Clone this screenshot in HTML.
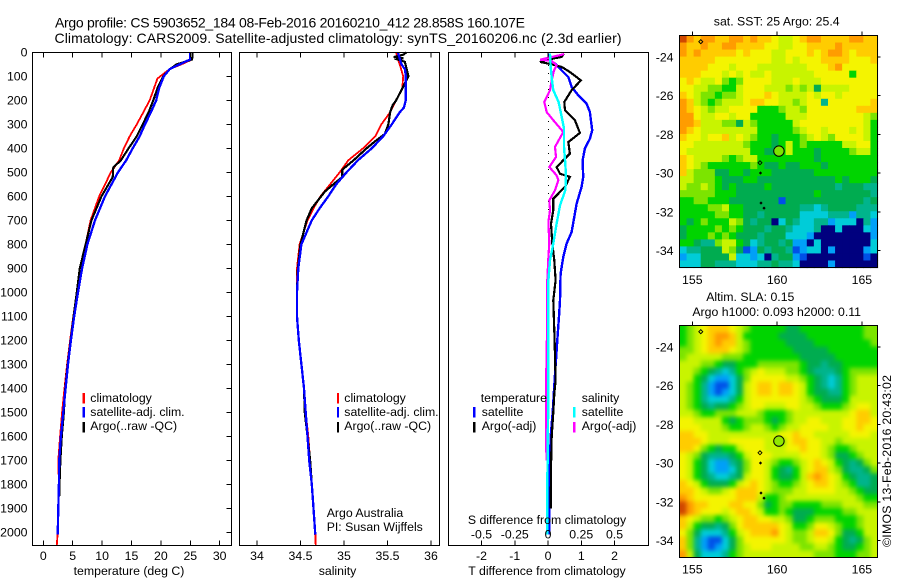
<!DOCTYPE html>
<html>
<head>
<meta charset="utf-8">
<title>Argo profile chart</title>
<style>
html,body{margin:0;padding:0;background:#fff;}
svg{display:block;font-family:"Liberation Sans",sans-serif;font-size:12.3px;fill:#000;}
text{fill:#000;}
</style>
</head>
<body>
<svg id="chart" xmlns="http://www.w3.org/2000/svg" width="900" height="580" viewBox="0 0 900 580">
<defs>
<filter id="sla-smooth" x="0" y="0" width="100%" height="100%" color-interpolation-filters="sRGB">
<feGaussianBlur stdDeviation="2"/>
<feComponentTransfer><feFuncA type="linear" slope="100"/></feComponentTransfer>
</filter>
<clipPath id="sla-clip"><rect x="679.5" y="325.5" width="198" height="232"/></clipPath>
</defs>
<rect x="0" y="0" width="900" height="580" fill="#fff"/>
<g id="marks"></g>
<g id="labels">
<text x="55" y="27.5" font-size="14" textLength="470">Argo profile: CS 5903652_184 08-Feb-2016 20160210_412 28.858S 160.107E</text>
<text x="54.5" y="43" font-size="14" textLength="567">Climatology: CARS2009. Satellite-adjusted climatology: synTS_20160206.nc (2.3d earlier)</text>
<text x="129" y="575" text-anchor="middle">temperature (deg C)</text>
<text x="337.5" y="575" text-anchor="middle">salinity</text>
<text x="547" y="575" text-anchor="middle">T difference from climatology</text>
<text x="547" y="524" text-anchor="middle">S difference from climatology</text>
<text x="90.3" y="402">climatology</text>
<text x="90.3" y="416">satellite-adj. clim.</text>
<text x="90.3" y="430">Argo(..raw -QC)</text>
<text x="344.3" y="402">climatology</text>
<text x="344.3" y="416">satellite-adj. clim.</text>
<text x="344.3" y="430">Argo(..raw -QC)</text>
<text x="326.7" y="517">Argo Australia</text>
<text x="326.7" y="531">PI: Susan Wijffels</text>
<text x="480.7" y="402">temperature</text>
<text x="481.7" y="416">satellite</text>
<text x="481.7" y="430">Argo(-adj)</text>
<text x="581.7" y="402">salinity</text>
<text x="581.7" y="416">satellite</text>
<text x="581.7" y="430">Argo(-adj)</text>
<text x="776.7" y="25.5" text-anchor="middle">sat. SST: 25 Argo: 25.4</text>
<text x="750.3" y="301" text-anchor="middle">Altim. SLA: 0.15</text>
<text x="776.7" y="316" text-anchor="middle">Argo h1000: 0.093 h2000: 0.11</text>
<text transform="translate(891,547) rotate(-90)" textLength="172">©IMOS 13-Feb-2016 20:43:02</text>
</g>
</svg>
<script>
// ---------- profile data ----------
const depthTicks = [0,100,200,300,400,500,600,700,800,900,1000,1100,1200,1300,1400,1500,1600,1700,1800,1900,2000];
const tempTicks = [0,5,10,15,20,25,30];
const salinityTicks = [34,34.5,35,35.5,36];
const tDiffTicks = [-2,-1,0,1,2];
const sDiffTicks = [-0.5,-0.25,0,0.25,0.5];
const lonTicks = [155,160,165];
const latTicks = [-24,-26,-28,-30,-32,-34];

const tempClimDepth = [0,30,50,70,100,110,200,250,300,350,400,450,500,600,700,800,900,1000,1100,1200,1300,1400,1500,1600,1700,1800,1900,2000,2054];
const tempClim = [25.35,25.3,23.5,21.5,19.9,19.4,18.1,17,15.9,14.7,13.7,12.9,11.5,9.5,8.05,7.2,6.2,5.7,5.1,4.55,4.05,3.6,3.2,2.85,2.55,2.65,2.6,2.45,2.3];
const tempSatDepth = [0,30,50,70,100,150,200,250,300,350,400,450,500,600,700,800,900,1000,1100,1200,1300,1400,1500,1600,1700,1800,1900,2010];
const tempSat = [24.95,24.95,23.2,21.5,20.5,19.7,19.2,18.3,17.3,16.4,15.2,14.1,12.7,10.5,8.8,7.5,6.6,5.9,5.25,4.7,4.2,3.8,3.4,3.0,2.7,2.65,2.55,2.45];
const tempArgoDepth = [0,30,50,70,100,150,200,250,300,350,400,450,480,520,600,700,800,900,1000,1100,1200,1300,1400,1500,1600,1700,1800,1850];
const tempArgo = [25.4,25.3,22.7,21.5,20.4,19.4,18.7,17.9,16.9,15.9,14.5,13.2,11.9,11.8,9.9,8.2,7.2,6.2,5.7,5.15,4.65,4.15,3.75,3.5,3.15,2.9,2.75,2.7];

const salClimDepth = [0,30,50,100,150,200,250,300,350,400,450,500,550,600,650,700,800,900,1000,1100,1200,1300,1400,1500,1600,1700,1800,1900,2000,2054];
const salClim = [35.6,35.62,35.64,35.68,35.67,35.6,35.53,35.43,35.36,35.22,35.05,34.95,34.84,34.73,34.65,34.58,34.49,34.46,34.46,34.46,34.48,34.51,34.54,34.56,34.59,34.61,34.63,34.65,34.67,34.675];
const salSatDepth = [0,50,70,100,150,200,230,250,300,350,400,450,500,550,600,650,700,800,900,1000,1100,1200,1300,1400,1500,1600,1700,1800,1900,2010];
const salSat = [35.62,35.66,35.7,35.71,35.71,35.71,35.69,35.64,35.55,35.45,35.32,35.16,35.03,34.91,34.82,34.72,34.63,34.51,34.475,34.46,34.46,34.48,34.51,34.54,34.56,34.58,34.6,34.63,34.65,34.67];
const salArgoDepth = [0,10,20,25,30,40,70,100,150,200,220,250,300,340,370,400,450,480,490,520,540,580,650,700,800,900,1000,1100,1200,1300,1400,1500,1600,1700,1800];
const salArgo = [35.72,35.68,35.57,35.68,35.62,35.7,35.72,35.74,35.67,35.6,35.56,35.53,35.51,35.47,35.36,35.26,35.11,35.01,34.98,34.98,34.91,34.78,34.63,34.57,34.5,34.47,34.46,34.46,34.48,34.51,34.54,34.55,34.58,34.61,34.63];

const tDiffSatDepth = [5,33,47,75,103,144,179,214,249,283,325,360,401,450,519,561,631,686,749,797,853,922,1033,1100,1200,1367,1500,1600,1700,1800,2010];
const tDiffSat = [0.04,0.06,0.21,0.41,0.61,0.71,0.91,1.16,1.26,1.29,1.33,1.26,1.11,1.04,1.06,1.01,0.86,0.79,0.71,0.56,0.46,0.38,0.36,0.33,0.28,0.2,0.14,0.08,0.06,0.05,0.04];
const tDiffArgoDepth = [6,19,26,40,50,61,82,117,158,207,242,283,336,374,422,478,506,519,561,610,658,714,797,867,950,1033,1200,1367,1422,1500,1600,1730,1900];
const tDiffArgo = [0.48,0.41,0.16,-0.24,0.11,0.41,0.66,0.99,0.71,0.49,0.51,0.81,0.96,0.61,0.66,0.26,0.36,0.66,0.51,0.16,0.16,0.09,0.13,0.19,0.23,0.16,0.2,0.23,0.19,0.16,0.11,0.09,0.08];
const sDiffArgoDepth = [8,31,36,54,75,117,158,207,249,283,332,394,436,478,513,533,575,617,658,707,797,853,950,1100,1400,1700];
const sDiffArgo = [0.12,-0.06,0.028,0.065,0.045,0.028,0.015,-0.028,-0.01,0.04,0.115,0.053,0.06,0.01,0.065,0.078,0.053,0.01,0.015,0.003,0.01,0.003,-0.005,-0.005,-0.015,-0.012];
const sDiffSatDepth = [6,61,117,158,207,261,317,394,464,519,575,638,714,797,867,950,1033,1400,1700,1800,2010];
const sDiffSat = [0.015,0.02,0.03,0.04,0.08,0.1,0.12,0.12,0.13,0.135,0.13,0.09,0.065,0.04,0.015,0.003,0.003,0.003,-0.003,-0.005,-0.005];

// ---------- map data (colour-scale steps) ----------
const scaleColors = ['#00007f','#0050e8','#00a0f8','#00ccd8','#00b48c','#00ac50','#00d400','#7ce400','#c8f400','#f4f400','#ffcc00','#ff9c00','#d04800'];
const trackLon = [155.5,158.99,159.02,159.05,159.23];
const trackLat = [-23.21,-29.46,-29.99,-31.54,-31.8];
const argoLon = 160.107;
const argoLat = -28.858;

const sstGrid = [
[12,11,10,11,11,10,10,11,11,10,11,10,10,9,8,8,9,10,11,11,10,10,10,10,11,11,10,10],
[11,10,10,11,10,10,11,11,10,10,10,10,9,9,8,8,9,9,10,10,10,10,11,10,10,10,10,10],
[11,10,11,10,10,10,10,10,9,10,9,9,9,8,8,9,9,9,10,9,10,11,11,10,9,10,10,10],
[10,10,10,10,10,9,9,9,9,9,9,9,9,8,8,9,8,9,9,9,10,10,10,10,9,9,9,10],
[10,10,10,10,9,9,9,8,9,9,9,8,8,8,8,8,8,8,9,9,9,10,11,9,9,9,9,9],
[10,10,10,9,9,9,8,9,8,9,8,8,9,8,8,8,8,8,8,9,9,9,9,9,6,9,9,9],
[9,10,9,8,8,9,7,6,7,9,9,9,9,8,8,8,9,8,8,8,9,9,9,9,9,9,9,9],
[9,9,8,8,7,7,6,6,8,9,9,9,8,8,8,7,8,7,8,5,8,8,8,8,9,9,9,9],
[10,9,8,7,7,6,7,7,8,9,9,9,10,9,8,8,8,8,9,8,9,9,8,9,9,9,9,9],
[11,10,8,7,6,7,8,8,8,9,10,10,9,9,8,8,7,8,9,9,4,9,9,9,9,9,9,10],
[11,10,9,8,7,8,8,9,9,9,9,6,6,6,7,8,8,7,9,9,9,9,9,9,9,10,10,10],
[11,11,9,8,8,9,9,8,9,9,6,6,6,6,6,8,8,8,9,9,9,9,9,9,9,9,8,7],
[11,11,10,8,8,8,7,7,5,8,7,6,6,6,6,6,8,9,9,9,9,9,9,9,9,9,8,6],
[11,10,9,8,8,8,8,8,8,8,8,6,6,6,6,6,7,8,9,9,8,9,9,9,8,9,8,6],
[10,9,9,8,9,9,10,8,9,8,7,6,6,5,6,6,6,7,8,9,8,7,9,9,9,9,8,6],
[9,9,8,8,8,8,8,8,8,7,6,6,6,5,6,8,6,7,6,6,6,6,6,8,8,9,9,6],
[9,8,8,8,8,8,8,8,8,8,6,6,5,5,6,8,6,6,6,5,6,6,6,6,7,8,8,6],
[10,9,8,8,8,8,7,6,7,8,8,6,6,6,6,6,6,6,6,5,6,6,6,6,6,6,6,6],
[10,9,8,7,6,6,6,6,6,6,7,6,5,5,6,5,5,6,6,6,5,6,6,6,6,6,6,6],
[10,8,7,7,7,5,5,6,6,5,6,6,6,5,5,5,5,5,5,6,6,6,6,6,6,6,6,6],
[8,8,7,7,7,6,5,5,5,6,6,5,5,5,5,5,5,5,5,5,5,5,6,5,6,6,6,5],
[8,7,7,8,7,6,5,6,5,5,5,5,6,5,5,5,5,5,5,5,5,5,4,5,5,5,4,4],
[7,7,7,7,7,6,6,6,5,5,5,5,5,5,5,5,5,5,5,6,5,5,5,5,5,5,5,4],
[6,6,7,7,6,6,6,5,5,5,5,5,5,5,1,5,5,5,5,5,5,5,5,5,5,5,4,5],
[6,6,6,6,7,7,8,6,6,5,5,5,5,5,5,5,5,4,4,3,4,5,5,5,5,4,4,4],
[6,6,6,6,6,7,7,6,6,5,5,4,5,5,5,5,5,3,3,3,3,4,4,4,2,4,4,3],
[6,5,6,7,6,6,6,8,7,5,4,5,5,0,3,5,4,3,3,4,4,2,3,3,3,0,4,2],
[5,6,6,6,6,7,6,7,6,5,5,5,4,5,5,4,3,3,3,4,0,0,3,0,0,0,3,2],
[5,6,6,6,7,6,7,6,5,5,5,4,5,5,5,3,3,3,2,0,0,0,0,0,0,0,0,2],
[6,6,5,4,4,7,8,8,6,5,3,4,5,5,4,5,2,2,0,3,0,0,0,0,0,0,0,3],
[3,4,4,5,5,5,8,7,5,1,2,5,4,5,5,4,1,2,3,3,0,2,0,0,0,0,2,3],
[2,3,3,5,5,5,5,8,3,3,2,3,0,4,5,5,2,1,0,0,0,0,0,0,0,0,1,0],
[3,3,3,5,5,4,4,4,3,3,3,4,4,5,4,4,3,0,0,0,0,2,0,0,0,0,0,0]
];

const slaGrid = [
[6,7,8,9,10,10,10,9,8,7,6,6,6,6,6,5,5,6,6,6,6,6,6,6,6,6,7,7],
[6,7,8,9,10,11,11,10,8,6,6,6,6,6,5,5,5,5,6,6,6,6,6,6,6,6,7,7],
[6,7,8,9,10,11,10,10,8,7,6,6,6,6,6,5,5,5,5,6,6,6,6,6,6,6,6,7],
[7,7,8,9,10,10,10,9,8,7,6,6,6,6,6,6,5,5,5,5,5,6,6,6,6,6,6,6],
[7,8,8,8,8,8,7,7,7,6,6,6,6,6,6,6,6,5,5,5,5,5,6,6,6,6,6,6],
[8,8,8,7,7,6,5,5,6,6,6,7,7,7,7,7,7,6,5,5,4,5,5,6,6,6,6,6],
[8,8,7,6,5,4,3,4,6,7,8,9,8,8,8,7,7,6,5,4,4,4,5,6,7,7,7,7],
[8,8,6,5,3,2,2,3,5,7,9,9,9,9,9,8,8,7,6,5,4,3,4,6,7,8,8,8],
[8,7,6,4,2,1,1,3,5,8,9,10,10,9,10,10,9,8,6,5,4,3,4,6,7,8,8,8],
[8,7,6,4,2,1,2,3,5,8,9,10,10,9,10,10,9,8,6,5,5,4,4,6,7,8,8,8],
[8,7,6,4,3,3,3,4,6,8,9,9,9,9,9,9,9,8,7,6,5,5,5,6,8,8,8,8],
[8,7,6,5,4,5,5,6,7,8,9,9,8,8,8,9,9,8,8,7,6,6,6,7,8,9,9,8],
[8,8,7,6,6,7,7,7,8,8,8,7,6,6,6,7,8,8,8,8,8,8,8,8,9,10,10,8],
[9,9,8,8,8,8,6,5,6,7,7,7,6,5,6,7,8,8,9,9,8,8,8,9,9,10,10,9],
[9,9,9,8,8,8,7,6,6,7,8,8,7,6,7,8,8,9,9,9,9,8,8,9,9,10,9,9],
[10,10,9,9,8,8,8,8,8,8,8,8,8,8,9,9,10,9,9,8,8,8,8,8,9,9,9,8],
[10,10,10,9,8,8,8,9,9,9,9,9,8,8,7,9,10,10,9,9,8,8,7,8,8,8,8,8],
[10,10,9,7,6,5,6,6,8,9,9,9,8,8,8,9,9,10,9,9,8,7,6,6,7,8,8,8],
[9,8,7,5,4,4,4,5,6,8,9,9,9,8,8,8,8,9,9,9,8,7,5,5,6,7,8,8],
[9,8,6,5,3,2,2,4,5,7,9,9,8,7,6,6,7,8,9,10,9,8,6,5,4,5,7,8],
[9,8,6,5,3,2,2,3,5,7,9,9,8,6,5,4,6,8,9,10,10,8,7,5,4,4,5,7],
[9,8,6,5,4,3,3,4,5,8,9,9,8,6,5,5,6,8,10,11,10,9,8,6,5,4,4,5],
[10,9,8,6,5,5,5,6,8,9,10,9,8,7,6,6,7,8,9,10,10,9,8,7,6,4,4,5],
[10,10,9,8,7,7,8,9,10,10,10,9,8,7,7,7,8,8,9,9,9,9,8,8,7,6,5,5],
[11,10,9,9,9,9,9,9,10,10,10,8,6,6,7,8,8,8,8,8,8,8,8,8,8,7,6,6],
[12,11,10,10,9,9,9,10,10,9,9,7,5,6,7,7,6,6,6,6,7,7,7,8,8,8,7,7],
[12,11,10,9,9,9,8,9,10,10,9,8,6,6,7,6,5,5,5,6,6,6,6,7,7,8,8,8],
[10,9,8,7,7,6,7,8,9,10,10,9,9,8,8,7,5,5,6,7,7,7,6,6,6,7,8,8],
[10,8,6,5,5,4,5,7,9,10,10,10,10,10,9,8,6,6,7,9,9,8,7,6,6,7,8,8],
[9,7,5,3,3,3,4,6,8,9,10,10,10,11,9,8,7,7,8,10,10,9,7,5,5,6,8,8],
[10,7,4,2,1,1,3,5,7,9,9,9,9,9,9,8,7,7,8,9,9,8,6,5,4,5,7,8],
[10,7,4,2,1,2,3,5,7,8,9,9,9,8,8,8,8,7,7,8,8,7,6,5,5,6,7,8],
[11,8,5,3,3,3,4,6,7,8,8,8,8,8,8,8,8,8,8,7,7,7,6,6,6,7,7,8]
];

// ---------- geometry & axis functions ----------
const SVGNS = 'http://www.w3.org/2000/svg';
const marks = document.getElementById('marks');
const topY = 52.5, botY = 545.5;
function depthY(d){ return 52.3 + d * 0.24; }
function tempX(t){ return 43.3 + t * 5.88; }
function salX(s){ return 257 + (s - 34) * 87; }
function tDiffX(t){ return 548 + t * 33.25; }
function sDiffX(s){ return 548 + s * 133; }
function mapLonX(lon){ return 692.3 + (lon - 155) * 16.96; }
function map1LatY(lat){ return 57 + (-24 - lat) * 19.37; }
function map2LatY(lat){ return 347 + (-24 - lat) * 19.37; }

function svgEl(tag, attrs, parent){
  const el = document.createElementNS(SVGNS, tag);
  for (const k in attrs) el.setAttribute(k, attrs[k]);
  (parent || marks).appendChild(el);
  return el;
}

function drawProfile(name, depths, values, xFn, color, width){
  const pts = depths.map(function(d, i){ return xFn(values[i]).toFixed(1) + ',' + depthY(d).toFixed(1); }).join(' ');
  const line = svgEl('polyline', {points: pts, fill: 'none', stroke: color, 'stroke-width': width, 'stroke-linejoin': 'miter', 'shape-rendering': 'crispEdges'});
  
  
}

function drawFrame(name, x1, y1, x2, y2){
  const r = svgEl('rect', {x: x1, y: y1, width: x2 - x1, height: y2 - y1, fill: 'none', stroke: '#000', 'stroke-width': 1, 'shape-rendering': 'crispEdges'});
  
  
}

function drawTick(x1, y1, x2, y2){
  const t = svgEl('line', {x1: x1, y1: y1, x2: x2, y2: y2, stroke: '#000', 'stroke-width': 1, 'shape-rendering': 'crispEdges'});
  
  
}

function drawLabel(name, x, y, txt, anchor){
  const t = svgEl('text', {x: x, y: y, 'text-anchor': anchor});
  t.textContent = txt;
  
  
}

function drawLegendBar(name, x, y, color){
  const b = svgEl('rect', {x: x, y: y, width: 2.4, height: 10.5, fill: color, 'shape-rendering': 'crispEdges'});
  
  
}

function drawHeatmap(prefix, grid, x1, y1, x2, y2, parent){
  const rows = grid.length, cols = grid[0].length;
  const cw = (x2 - x1) / cols, ch = (y2 - y1) / rows;
  grid.forEach(function(row, r){
    row.forEach(function(v, c){
      const x = x1 + c * cw, y = y1 + r * ch;
      const cell = svgEl('rect', {x: x.toFixed(2), y: y.toFixed(2), width: (cw + 0.6).toFixed(2), height: (ch + 0.6).toFixed(2), fill: scaleColors[v]}, parent);
      
      
    });
  });
}

function drawMapOverlay(prefix, latY, x1, y1, x2, y2, labelY, fill){
  trackLon.forEach(function(lon, i){
    const px = mapLonX(lon), py = latY(trackLat[i]);
    const size = i < 2 ? 2 : 1;
    const dot = svgEl('polygon', {points: (px - size) + ',' + py + ' ' + px + ',' + (py - size) + ' ' + (px + size) + ',' + py + ' ' + px + ',' + (py + size), fill: i < 2 ? 'none' : '#000', stroke: '#000', 'stroke-width': 0.9});
    
    
  });
  const c = svgEl('circle', {cx: mapLonX(argoLon), cy: latY(argoLat), r: 5.2, fill: fill, stroke: '#000', 'stroke-width': 1});
  
  
  drawFrame(prefix + '-frame', x1, y1, x2, y2);
  lonTicks.forEach(function(lon){
    drawTick(mapLonX(lon), y1 - 4, mapLonX(lon), y1);
    drawLabel(prefix + '-lon-label', mapLonX(lon), labelY, String(lon), 'middle');
  });
  latTicks.forEach(function(lat){
    drawTick(x2, latY(lat), x2 + 3, latY(lat));
    drawLabel(prefix + '-lat-label', 673.5, latY(lat) + 4.5, String(lat), 'end');
  });
}

// ---------- panel 1: temperature ----------
drawProfile('temperature-climatology-line', tempClimDepth, tempClim, tempX, '#ff0000', 1.8);
drawProfile('temperature-argo-line', tempArgoDepth, tempArgo, tempX, '#000000', 2.1);
drawProfile('temperature-satellite-line', tempSatDepth, tempSat, tempX, '#0000ff', 2.3);
drawFrame('temperature-panel-frame', 32.5, topY, 231.5, botY);
tempTicks.forEach(function(t){
  drawTick(tempX(t), topY, tempX(t), topY + 5);
  drawTick(tempX(t), botY - 5, tempX(t), botY);
  drawLabel('temperature-tick-label', tempX(t), 560, String(t), 'middle');
});
depthTicks.forEach(function(d){
  drawTick(226.5, depthY(d), 231.5, depthY(d));
  drawLabel('depth-tick-label', 27.5, depthY(d) + 4.3, String(d), 'end');
});
drawLegendBar('legend-climatology-swatch', 82.5, 393, '#ff0000');
drawLegendBar('legend-satellite-swatch', 82.5, 407, '#0000ff');
drawLegendBar('legend-argo-swatch', 82.5, 422, '#000000');

// ---------- panel 2: salinity ----------
drawProfile('salinity-climatology-line', salClimDepth, salClim, salX, '#ff0000', 1.8);
drawProfile('salinity-argo-line', salArgoDepth, salArgo, salX, '#000000', 2.2);
drawProfile('salinity-satellite-line', salSatDepth, salSat, salX, '#0000ff', 2.3);
drawFrame('salinity-panel-frame', 239.5, topY, 439.5, botY);
salinityTicks.forEach(function(s){
  drawTick(salX(s), topY, salX(s), topY + 5);
  drawTick(salX(s), botY - 5, salX(s), botY);
  drawLabel('salinity-tick-label', salX(s), 560, String(s), 'middle');
});
drawLegendBar('legend-climatology-swatch-2', 336.8, 393, '#ff0000');
drawLegendBar('legend-satellite-swatch-2', 336.8, 407, '#0000ff');
drawLegendBar('legend-argo-swatch-2', 336.8, 422, '#000000');

// ---------- panel 3: differences ----------
const zeroLine = svgEl('line', {x1: tDiffX(0) + 0.5, y1: depthY(20), x2: tDiffX(0) + 0.5, y2: depthY(1000), stroke: '#000', 'stroke-width': 1, 'stroke-dasharray': '1 7', 'shape-rendering': 'crispEdges'});


drawProfile('t-difference-satellite-line', tDiffSatDepth, tDiffSat, tDiffX, '#0000ff', 2.4);
drawProfile('t-difference-argo-line', tDiffArgoDepth, tDiffArgo, tDiffX, '#000000', 2.2);
drawProfile('s-difference-argo-line', sDiffArgoDepth, sDiffArgo, sDiffX, '#ff00ff', 2.2);
drawProfile('s-difference-satellite-line', sDiffSatDepth, sDiffSat, sDiffX, '#00ffff', 2.4);
drawFrame('difference-panel-frame', 448.5, topY, 648.5, botY);
tDiffTicks.forEach(function(t){
  drawTick(tDiffX(t), topY, tDiffX(t), topY + 5);
  drawTick(tDiffX(t), botY - 5, tDiffX(t), botY);
  drawLabel('t-difference-tick-label', tDiffX(t), 560, String(t), 'middle');
});
sDiffTicks.forEach(function(s){
  drawLabel('s-difference-tick-label', sDiffX(s), 538.5, String(s), 'middle');
});
drawLegendBar('legend-t-satellite-swatch', 473, 407, '#0000ff');
drawLegendBar('legend-t-argo-swatch', 473, 422, '#000000');
drawLegendBar('legend-s-satellite-swatch', 573, 407, '#00ffff');
drawLegendBar('legend-s-argo-swatch', 573, 422, '#ff00ff');

// ---------- maps ----------
drawHeatmap('sst-map', sstGrid, 679.5, 35.5, 877.5, 267.5, marks);
drawMapOverlay('sst-map', map1LatY, 679.5, 35.5, 877.5, 267.5, 284, scaleColors[7]);

const slaClip = svgEl('g', {'clip-path': 'url(#sla-clip)'});


const slaCells = svgEl('g', {filter: 'url(#sla-smooth)'}, slaClip);


drawHeatmap('sla-map', slaGrid, 679.5, 325.5, 877.5, 557.5, slaCells);
drawMapOverlay('sla-map', map2LatY, 679.5, 325.5, 877.5, 557.5, 573.5, '#90e800');
</script>
</body>
</html>
